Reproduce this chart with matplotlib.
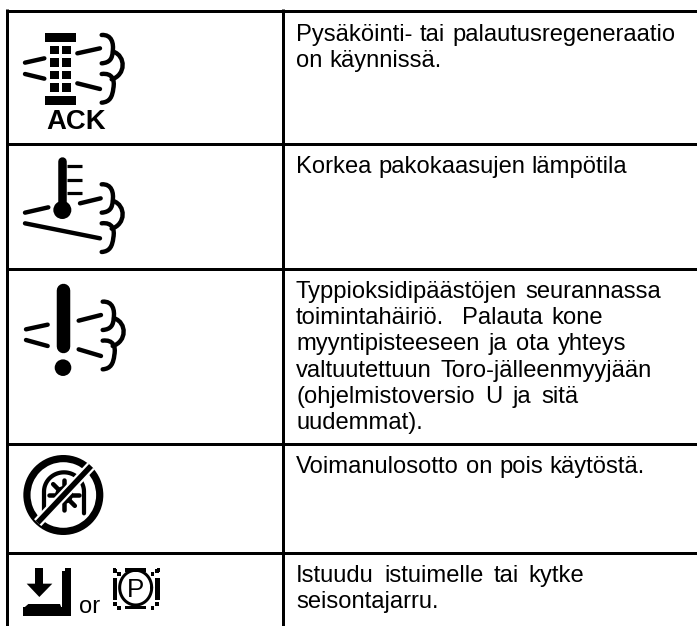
import numpy as np
import matplotlib
matplotlib.use('Agg')
import matplotlib.pyplot as plt
from matplotlib.path import Path
from matplotlib.patches import PathPatch, Circle, Rectangle, Wedge

# table rules, in pixels of the page
row_lines = [10.5, 143.5, 268.5, 443.5, 552.5]
col_lines = [6.5, 282.5]

# description cell texts: each line with its first baseline and justified end
row1_lines = ["Pysäköinti- tai palautusregeneraatio", "on käynnissä."]
row2_lines = ["Korkea pakokaasujen lämpötila"]
row3_lines = ["Typpioksidipäästöjen seurannassa", "toimintahäiriö.  Palauta kone",
              "myyntipisteeseen ja ota yhteys", "valtuutettuun Toro-jälleenmyyjään",
              "(ohjelmistoversio U ja sitä", "uudemmat)."]
row4_lines = ["Voimanulosotto on pois käytöstä."]
row5_lines = ["Istuudu istuimelle tai kytke", "seisontajarru."]

row_texts = [row1_lines, row2_lines, row3_lines, row4_lines, row5_lines]
row_baselines = [41, 173, 298, 473, 582]
row_line_ends = [[675.7, 441.7], [627.3], [661, 603.3, 626.7, 651.7, 578.3, 421.7],
                 [645], [584.3, 437.7]]
text_left = 296
line_step = 26.2
font_px = 23.7

fig = plt.figure(figsize=(6.97, 6.26), dpi=100)
ax = fig.add_axes([0, 0, 1, 1])
ax.set_xlim(0, 697)
ax.set_ylim(626, 0)
ax.axis('off')


def px(w):
    return w * 0.72


def seg(pts, lw=4.4, ox=0, oy=0, cap='round'):
    # pts are in 3x zoom pixels, ox/oy is the zoom crop origin in page pixels
    xs = [p[0] / 3 + ox for p in pts]
    ys = [p[1] / 3 + oy for p in pts]
    ax.plot(xs, ys, color='black', lw=px(lw), solid_capstyle=cap, solid_joinstyle='round')


def box(x0, y0, x1, y1, ox=0, oy=0):
    ax.add_patch(Rectangle((x0 / 3 + ox, y0 / 3 + oy), (x1 - x0) / 3, (y1 - y0) / 3,
                           fc='black', ec='none'))


def bezier(start, *curves, lw=4.4, ox=0, oy=0):
    verts = [start]
    codes = [Path.MOVETO]
    for c in curves:
        verts += list(c)
        codes += [Path.CURVE4] * 3
    verts = [(v[0] / 3 + ox, v[1] / 3 + oy) for v in verts]
    ax.add_patch(PathPatch(Path(verts, codes), fc='none', ec='black', lw=px(lw), capstyle='round'))


def puffs(ox=0, oy=0):
    bezier((305, 105), ((335, 103), (342, 130), (338, 155)), ((337, 175), (330, 188), (305, 190)), ox=ox, oy=oy)
    bezier((340, 155), ((378, 168), (378, 225), (335, 238)), ox=ox, oy=oy)
    bezier((305, 222), ((337, 218), (345, 240), (340, 265)), ((337, 290), (330, 306), (305, 308)), ox=ox, oy=oy)


# table rules
for y in row_lines:
    ax.plot([6, 697], [y, y], color='black', lw=px(3), solid_capstyle='butt')
for x in col_lines:
    ax.plot([x, x], [9, 626], color='black', lw=px(3), solid_capstyle='butt')

# row 1 icon: filter between exhaust lines
box(135, 99, 228, 125)
box(135, 288, 228, 314)
for y0, y1 in [(138, 163), (175, 201), (212, 238), (250, 275)]:
    box(150, y0, 178, y1)
    box(187, y0, 214, y1)
seg([(75, 188), (133, 175)])
seg([(75, 222), (133, 236)])
seg([(232, 160), (300, 145)])
seg([(232, 250), (300, 267)])
puffs()
ax.text(46.5, 129, "ACK", fontfamily='Liberation Sans', fontweight='bold', fontsize=px(27.5),
        color='black', ha='left', va='baseline')

# row 2 icon: thermometer
seg([(187, 482), (187, 610)], lw=8.5)
ax.add_patch(Circle((187 / 3, 630 / 3), 9, fc='black', ec='none'))
for y in [497, 540, 580]:
    seg([(200, y), (245, y)], lw=3.2, cap='butt')
seg([(75, 638), (145, 622)])
seg([(75, 670), (300, 715)])
seg([(240, 610), (302, 595)])
puffs(oy=448 / 3)

# row 3 icon: exclamation mark
oy3 = 250
seg([(189, 120), (189, 288)], lw=13.5, oy=oy3)
ax.add_patch(Circle((189 / 3, 353 / 3 + oy3), 8.3, fc='black', ec='none'))
seg([(78, 238), (143, 224)], oy=oy3)
seg([(78, 270), (143, 288)], oy=oy3)
seg([(236, 212), (303, 195)], oy=oy3)
seg([(236, 298), (303, 318)], oy=oy3)
puffs(ox=1, oy=oy3 + 50 / 3)

# row 4 icon: crossed out PTO
ox4, oy4 = 15, 450
cx, cy = 145 / 3 + ox4, 135 / 3 + oy4
theta = np.linspace(np.pi, 2 * np.pi, 40)
arch_x = list(147 + 60 * np.cos(theta))
arch_y = list(125 + 58 * np.sin(theta))
seg([(87, 185)] + list(zip(arch_x, arch_y)) + [(207, 190)], lw=4.2, ox=ox4, oy=oy4)
for ang in np.arange(0, 360, 45):
    a = np.radians(ang)
    seg([(147, 135), (147 + 46 * np.cos(a), 135 + 46 * np.sin(a))], lw=4.5, ox=ox4, oy=oy4)
ax.add_patch(Circle((147 / 3 + ox4, 135 / 3 + oy4), 9, fc='black', ec='none'))
seg_pts = [(68, 218), (228, 48)]
ax.plot([p[0] / 3 + ox4 for p in seg_pts], [p[1] / 3 + oy4 for p in seg_pts], color='white',
        lw=px(10), solid_capstyle='butt')
seg(seg_pts, lw=5.5, ox=ox4, oy=oy4, cap='butt')
ax.add_patch(Wedge((cx, cy), 40, 0, 360, width=7.2, fc='black', ec='none'))

# row 5 icons: seat and parking brake
ox5, oy5 = 15, 555
box(60, 38, 85, 88, ox5, oy5)
ax.add_patch(plt.Polygon([(35 / 3 + ox5, 86 / 3 + oy5), (112 / 3 + ox5, 86 / 3 + oy5), (73 / 3 + ox5, 126 / 3 + oy5)],
                         fc='black', ec='none'))
box(25, 157, 168, 182, ox5, oy5)
ax.add_patch(plt.Polygon([(25 / 3 + ox5, 160 / 3 + oy5), (40 / 3 + ox5, 147 / 3 + oy5), (135 / 3 + ox5, 147 / 3 + oy5),
                          (140 / 3 + ox5, 160 / 3 + oy5)], fc='black', ec='none'))
box(140, 48, 168, 182, ox5, oy5)
box(150, 38, 168, 50, ox5, oy5)
ax.text(79.5, 613, "or", fontfamily='Liberation Sans', fontsize=px(font_px), color='black', ha='left', va='baseline')

# parking brake, coarse because the source is a low resolution bitmap
px0, py0 = 15, 555
theta = np.linspace(0, 2 * np.pi, 80)
seg(list(zip(362 + 48 * np.cos(theta), 98 + 52 * np.sin(theta))), lw=3, ox=px0, oy=py0)
box(330, 40, 392, 50, px0, py0)
box(330, 153, 392, 163, px0, py0)
ax.text(361 / 3 + px0, 127 / 3 + py0, "P", fontfamily='Liberation Sans', fontsize=px(26), color='black',
        ha='center', va='baseline')
box(293, 70, 307, 135, px0, py0)
box(420, 70, 435, 135, px0, py0)
for x, y in [(300, 48), (312, 58), (425, 48), (412, 58), (300, 148), (312, 158), (425, 148), (412, 158)]:
    box(x - 5, y - 6, x + 6, y + 6, px0, py0)
box(293, 40, 302, 50, px0, py0)
box(426, 40, 435, 50, px0, py0)

# description column, word gaps are stretched so each line ends where it does in the source
fig.canvas.draw()
renderer = fig.canvas.get_renderer()
for lines, first, ends in zip(row_texts, row_baselines, row_line_ends):
    for i, (line, end) in enumerate(zip(lines, ends)):
        words = line.split(' ')
        y = round(first + i * line_step)
        items = []
        total = 0
        for w in words:
            t = ax.text(0, y, w, fontfamily='Liberation Sans', fontsize=px(font_px), color='black',
                        ha='left', va='baseline')
            wd = t.get_window_extent(renderer).width if w else 0
            items.append((t, wd))
            total += wd
        gap = (end - text_left - total) / max(len(words) - 1, 1)
        x = text_left
        for t, wd in items:
            t.set_x(x)
            x += wd + gap

fig.savefig('out.png', dpi=100)
